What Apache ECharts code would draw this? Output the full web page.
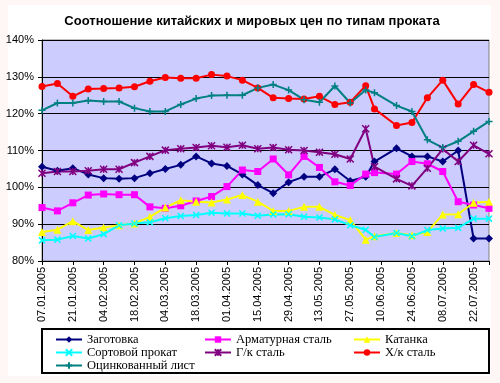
<!DOCTYPE html>
<html><head><meta charset="utf-8">
<script src="https://cdn.jsdelivr.net/npm/echarts@6/dist/echarts.min.js"></script>
<style>
html,body{margin:0;padding:0;background:#FFF6F6;}
#paper{position:absolute;left:8px;top:5px;width:483px;height:371px;background:#fff;}
#chart{position:absolute;left:0;top:0;width:500px;height:383px;}
</style></head>
<body>
<div id="paper"></div>
<div id="chart"></div>
<script>
const dates = ['07.01.2005','14.01.2005','21.01.2005','28.01.2005','04.02.2005','11.02.2005','18.02.2005','25.02.2005',
  '04.03.2005','11.03.2005','18.03.2005','25.03.2005','01.04.2005','08.04.2005','15.04.2005','22.04.2005',
  '29.04.2005','06.05.2005','13.05.2005','20.05.2005','27.05.2005','03.06.2005','07.06.2005','17.06.2005',
  '24.06.2005','01.07.2005','08.07.2005','15.07.2005','22.07.2005','29.07.2005'];
const zagotovka = [105.6,104.5,105.2,103.5,102.5,102.3,102.5,103.8,105.0,106.1,108.4,106.5,105.8,103.5,100.6,98.4,101.4,102.9,102.9,104.9,101.7,102.9,107.0,110.6,108.4,108.4,107.0,110.0,86.1,86.1];
const armatur = [94.5,93.6,95.8,97.9,98.2,98.0,98.0,94.7,94.3,95.0,96.3,97.5,100.2,104.7,104.3,107.7,103.4,108.4,105.4,101.5,100.5,103.6,104.0,103.6,107.0,106.4,104.3,96.1,95.2,94.3];
const katanka = [87.9,88.5,90.8,88.4,89.1,89.7,90.2,92.0,94.5,96.5,96.1,95.9,96.7,97.9,96.1,93.6,93.6,94.7,94.7,92.5,91.1,85.8,86.7,87.6,87.0,87.9,92.6,92.7,95.8,96.1];
const sortovoy = [85.6,85.8,86.8,86.1,87.3,89.7,90.2,90.5,91.6,92.2,92.5,93.1,92.9,92.9,92.3,92.6,92.7,92.0,91.8,91.3,89.7,88.5,86.5,87.6,86.7,88.4,88.8,89.0,91.5,91.5];
const gkStal = [103.8,104.3,104.3,104.5,104.9,104.9,106.7,108.4,110.1,110.5,110.8,111.3,110.9,111.4,110.5,110.8,110.2,110.0,109.5,109.0,107.7,115.9,105.6,102.3,100.4,105.2,110.4,107.0,111.4,109.1];
const hkStal = [127.4,128.2,124.7,126.7,126.8,127.0,127.3,128.8,129.8,129.6,129.6,130.6,130.2,129.1,127.0,124.3,124.1,124.0,124.7,122.5,123.1,127.6,121.3,116.8,117.6,124.3,129.1,122.6,127.9,125.8];
const otsink = [120.9,122.9,122.9,123.6,123.3,123.3,121.5,120.6,120.6,122.5,124.1,124.9,125.0,125.0,127.0,127.9,126.4,123.8,123.1,127.5,122.9,126.4,125.7,122.2,120.6,112.9,110.8,112.5,115.2,117.9];
const seriesNames = ['Заготовка','Арматурная сталь','Катанка','Сортовой прокат','Г/к сталь','Х/к сталь','Оцинкованный лист'];
const yTicks = [80,90,100,110,120,130,140];

function parseD(s){const p=s.split('.');return Date.UTC(+p[2],+p[1]-1,+p[0]);}
const t0 = parseD(dates[0]);
const dayOf = s => Math.round((parseD(s)-t0)/86400000);
const days = dates.map(dayOf);
function fmtDay(d){const dt=new Date(t0+d*86400000);const dd=String(dt.getUTCDate()).padStart(2,'0');const mm=String(dt.getUTCMonth()+1).padStart(2,'0');return dd+'.'+mm+'.'+dt.getUTCFullYear();}

const styles = [
  {color:'#000080', symbol:'diamond', size:8},
  {color:'#FF00FF', symbol:'rect', size:7},
  {color:'#FFFF00', symbol:'triangle', size:8},
  {color:'#00FFFF', symbol:'path://M0,0L10,10M10,0L0,10', size:6, stroke:true},
  {color:'#800080', symbol:'path://M0,0L10,10M10,0L0,10M5,0L5,10', size:7, stroke:true},
  {color:'#FF0000', symbol:'circle', size:7},
  {color:'#008080', symbol:'path://M5,0L5,10M0,5L10,5', size:7, stroke:true}
];
const values = [zagotovka, armatur, katanka, sortovoy, gkStal, hkStal, otsink];

const series = values.map((arr,i)=>({
  name: seriesNames[i], type:'line', data: arr.map((v,j)=>[days[j], v]),
  symbol: styles[i].symbol, symbolSize: styles[i].size, showSymbol:true,
  lineStyle:{color:styles[i].color, width:2},
  itemStyle: styles[i].stroke ? {color:styles[i].color, borderColor:styles[i].color, borderWidth:1.5} : {color:styles[i].color, borderWidth:0},
  emphasis:{disabled:true}, z: 3
}));

const legendBase = {orient:'vertical', itemWidth:26, itemHeight:8, itemGap:0, top:333, padding:0, selectedMode:false,
  textStyle:{fontFamily:'Liberation Serif', fontSize:12.5, color:'#000', lineHeight:12}};

const chart = echarts.init(document.getElementById('chart'), null, {renderer:'canvas'});
chart.setOption({
  animation:false,
  backgroundColor:'transparent',
  title:{text:'Соотношение китайских и мировых цен по типам проката', left:247, textAlign:'center', top:10,
    textStyle:{fontFamily:'Liberation Sans', fontSize:13, fontWeight:'bold', color:'#000'}},
  grid:{left:42, top:40, right:11, bottom:122, show:true, backgroundColor:'#CCCCFF', borderColor:'#808080', borderWidth:1},
  xAxis:{type:'value', min:0, max:203, interval:14,
    axisLine:{lineStyle:{color:'#000', width:1}},
    axisTick:{show:true, length:4, lineStyle:{color:'#000'}},
    splitLine:{show:false},
    axisLabel:{rotate:90, margin:6, color:'#000', fontFamily:'Liberation Sans', fontSize:11,
      formatter: v => (v%14===0 ? fmtDay(v) : '')}},
  yAxis:{type:'value', min:yTicks[0], max:yTicks[yTicks.length-1], interval:10,
    axisLine:{show:true, lineStyle:{color:'#000', width:1}},
    axisTick:{show:true, length:4, lineStyle:{color:'#000'}},
    splitLine:{show:true, lineStyle:{color:'#000', width:1}},
    axisLabel:{color:'#000', margin:8, fontFamily:'Liberation Sans', fontSize:11, formatter:'{value}%'}},
  legend:[
    Object.assign({}, legendBase, {left:55, data:[seriesNames[0], seriesNames[3], seriesNames[6]]}),
    Object.assign({}, legendBase, {left:204, data:[seriesNames[1], seriesNames[4]]}),
    Object.assign({}, legendBase, {left:353, data:[seriesNames[2], seriesNames[5]]})
  ],
  graphic:[{type:'rect', shape:{x:42, y:329, width:447, height:44}, style:{fill:'none', stroke:'#000', lineWidth:2}, silent:true}],
  series: series
});
</script>
</body></html>
